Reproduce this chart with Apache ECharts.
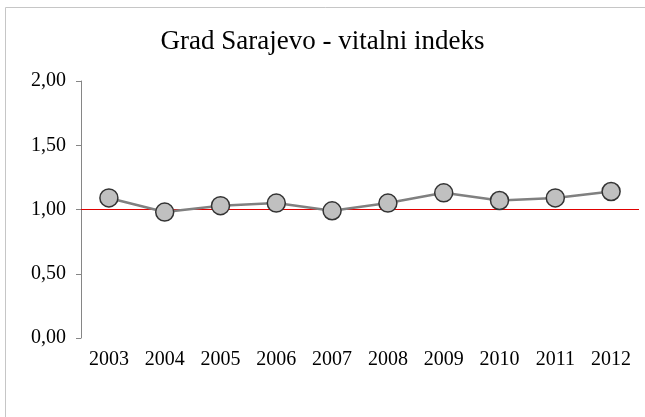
<!DOCTYPE html>
<html>
<head>
<meta charset="utf-8">
<script src="https://cdn.jsdelivr.net/npm/echarts@6/dist/echarts.min.js"></script>
<style>
  html, body { margin: 0; padding: 0; background: #fff; }
  #chart { width: 645px; height: 417px; }
</style>
</head>
<body>
<div id="chart"></div>
<script>
// Vital index (births / deaths) for the City of Sarajevo, by year
const years = ['2003', '2004', '2005', '2006', '2007', '2008', '2009', '2010', '2011', '2012'];
const vitalIndex = [1.09, 0.98, 1.03, 1.05, 0.99, 1.05, 1.13, 1.07, 1.09, 1.14];
const yTicks = [0, 0.5, 1, 1.5, 2];
const referenceLevel = 1.0;

const serif = '"Liberation Serif", "Times New Roman", serif';
const fmt = v => v.toFixed(2).replace('.', ',');

const chart = echarts.init(document.getElementById('chart'), null, { renderer: 'canvas' });
chart.setOption({
  backgroundColor: '#fff',
  animation: false,
  title: {
    text: 'Grad Sarajevo - vitalni indeks',
    left: 'center',
    top: 23,
    textStyle: { fontFamily: serif, fontSize: 27, fontWeight: 'normal', color: '#000' }
  },
  // chart frame: only the top and left edges fall inside the canvas
  graphic: [{
    type: 'polyline',
    shape: { points: [[5.5, 417], [5.5, 7.5], [645, 7.5]] },
    style: { fill: 'none', stroke: '#c6c6c6', lineWidth: 1 },
    silent: true
  }],
  grid: { left: 81, right: 6, top: 81, bottom: 79, containLabel: false },
  xAxis: {
    type: 'category',
    data: years,
    boundaryGap: true,
    axisLine: { show: false },
    axisTick: { show: false },
    axisLabel: { fontFamily: serif, fontSize: 20, color: '#000', margin: 12 }
  },
  yAxis: {
    type: 'value',
    min: yTicks[0],
    max: yTicks[yTicks.length - 1],
    interval: yTicks[1] - yTicks[0],
    axisLine: { show: true, lineStyle: { color: '#868686', width: 1 } },
    axisTick: { show: true, inside: false, length: 5, lineStyle: { color: '#868686' } },
    splitLine: { show: false },
    axisLabel: { fontFamily: serif, fontSize: 20, color: '#000', margin: 15, formatter: fmt }
  },
  series: [{
    type: 'line',
    data: vitalIndex,
    symbol: 'circle',
    symbolSize: 18,
    lineStyle: { color: '#808080', width: 2.5 },
    itemStyle: { color: '#c0c0c0', borderColor: '#333', borderWidth: 1.5 },
    z: 3,
    markLine: {
      silent: true,
      symbol: 'none',
      label: { show: false },
      lineStyle: { color: '#e00000', width: 1, type: 'solid' },
      data: [{ yAxis: referenceLevel }],
      z: 1
    }
  }]
});
</script>
</body>
</html>
